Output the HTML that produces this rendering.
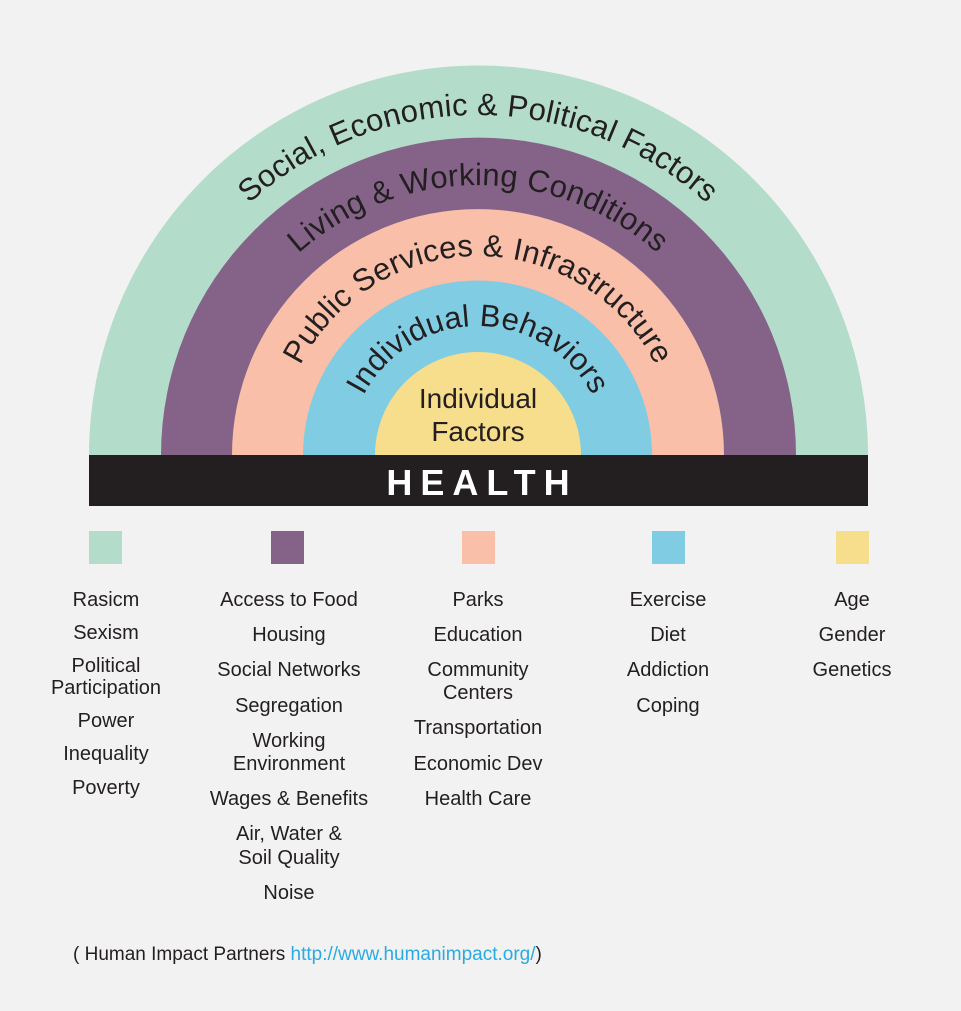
<!DOCTYPE html>
<html><head><meta charset="utf-8"><style>
html,body{margin:0;padding:0;background:#f2f2f2;}
svg{display:block;}
text{font-family:"Liberation Sans",sans-serif;}
</style></head><body>
<svg width="961" height="1011" viewBox="0 0 961 1011" xmlns="http://www.w3.org/2000/svg">
<rect width="961" height="1011" fill="#f2f2f2"/>
<defs>
<path id="a1" d="M 138 455 A 340 340 0 0 1 818 455"/>
<path id="a2" d="M 208 455 A 270 270 0 0 1 748 455"/>
<path id="a3" d="M 279 455 A 199 199 0 0 1 677 455"/>
<path id="a4" d="M 349 455 A 129 129 0 0 1 607 455"/>
</defs>
<path d="M 89 455 A 389.5 389.5 0 0 1 868 455 Z" fill="#b3dccb"/>
<path d="M 161 455 A 317.5 317.5 0 0 1 796 455 Z" fill="#856389"/>
<path d="M 232 455 A 246 246 0 0 1 724 455 Z" fill="#f9bfa8"/>
<path d="M 303 455 A 174.5 174.5 0 0 1 652 455 Z" fill="#80cce3"/>
<path d="M 375 455 A 103 103 0 0 1 581 455 Z" fill="#f6de8c"/>
<g font-size="31" fill="#231f20" letter-spacing="0.2">
<text><textPath href="#a1" startOffset="50%" text-anchor="middle">Social, Economic &amp; Political Factors</textPath></text>
<text><textPath href="#a2" startOffset="50%" text-anchor="middle">Living &amp; Working Conditions</textPath></text>
<text><textPath href="#a3" startOffset="50%" text-anchor="middle">Public Services &amp; Infrastructure</textPath></text>
<text><textPath href="#a4" startOffset="50%" text-anchor="middle">Individual Behaviors</textPath></text>
</g>
<g font-size="28" fill="#231f20" text-anchor="middle">
<text x="478" y="408">Individual</text>
<text x="478" y="441">Factors</text>
</g>
<rect x="89" y="455" width="779" height="51" fill="#231f20"/>
<text x="482" y="495" font-size="36" font-weight="bold" fill="#fff" text-anchor="middle" letter-spacing="8">HEALTH</text>
<rect x="89" y="531" width="33" height="33" fill="#b3dccb"/>
<rect x="271" y="531" width="33" height="33" fill="#856389"/>
<rect x="462" y="531" width="33" height="33" fill="#f9bfa8"/>
<rect x="652" y="531" width="33" height="33" fill="#80cce3"/>
<rect x="836" y="531" width="33" height="33" fill="#f6de8c"/>
<g font-size="20" fill="#231f20" text-anchor="middle">
<text x="106" y="606">Rasicm</text>
<text x="106" y="639">Sexism</text>
<text x="106" y="672">Political</text>
<text x="106" y="694">Participation</text>
<text x="106" y="727">Power</text>
<text x="106" y="760">Inequality</text>
<text x="106" y="794">Poverty</text>

<text x="289" y="606">Access to Food</text>
<text x="289" y="641">Housing</text>
<text x="289" y="676">Social Networks</text>
<text x="289" y="712">Segregation</text>
<text x="289" y="747">Working</text>
<text x="289" y="770">Environment</text>
<text x="289" y="805">Wages &amp; Benefits</text>
<text x="289" y="840">Air, Water &amp;</text>
<text x="289" y="864">Soil Quality</text>
<text x="289" y="899">Noise</text>

<text x="478" y="606">Parks</text>
<text x="478" y="641">Education</text>
<text x="478" y="676">Community</text>
<text x="478" y="699">Centers</text>
<text x="478" y="734">Transportation</text>
<text x="478" y="770">Economic Dev</text>
<text x="478" y="805">Health Care</text>

<text x="668" y="606">Exercise</text>
<text x="668" y="641">Diet</text>
<text x="668" y="676">Addiction</text>
<text x="668" y="712">Coping</text>

<text x="852" y="606">Age</text>
<text x="852" y="641">Gender</text>
<text x="852" y="676">Genetics</text>
</g>
<text x="73" y="960" font-size="19" fill="#231f20">( Human Impact Partners <tspan fill="#29abe2">http://www.humanimpact.org/</tspan>)</text>
</svg>
</body></html>
